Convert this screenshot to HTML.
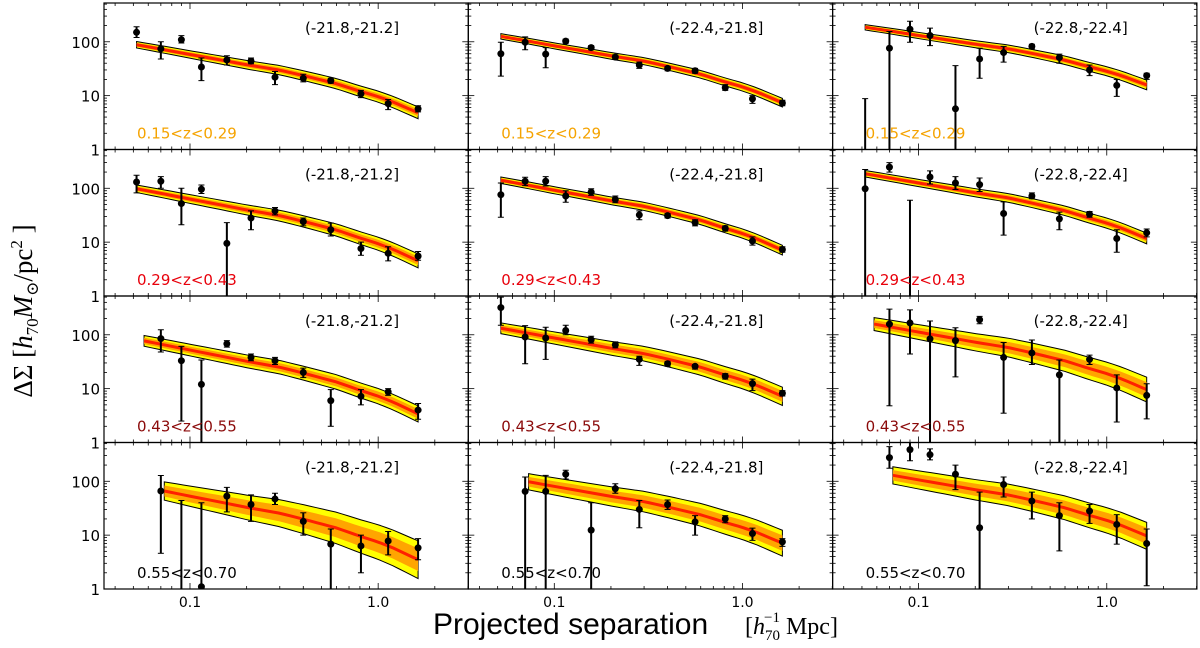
<!DOCTYPE html>
<html><head><meta charset="utf-8"><style>
html,body{margin:0;padding:0;background:#fff;}
svg{display:block;}
</style></head><body>
<svg id="fig" width="1200" height="648" viewBox="0 0 1200 648" xmlns="http://www.w3.org/2000/svg">
<text transform="translate(32,311) rotate(-90)" text-anchor="middle" font-family="Liberation Serif, DejaVu Serif, serif" font-size="27">ΔΣ  [<tspan font-style="italic">h</tspan><tspan font-size="17" dy="6">70</tspan><tspan dy="-6" font-style="italic">M</tspan><tspan font-size="17" dy="6">⊙</tspan><tspan dy="-6">/pc</tspan><tspan font-size="17" dy="-10">2</tspan><tspan dy="10"> ]</tspan></text>
<text x="433" y="634" font-family="Liberation Sans, DejaVu Sans, sans-serif" font-size="30">Projected separation</text>
<text x="745" y="634" font-family="Liberation Serif, DejaVu Serif, serif" font-size="24">[<tspan font-style="italic">h</tspan><tspan font-size="15" dy="6">70</tspan><tspan font-size="15" dx="-16" dy="-18">−1</tspan><tspan dy="12"> Mpc]</tspan></text>
</svg>
<script>
const xBins = [0.052,0.07,0.09,0.115,0.157,0.211,0.283,0.40,0.56,0.81,1.13,1.63];
const magRanges = ["(-21.8,-21.2]","(-22.4,-21.8]","(-22.8,-22.4]"];
const zLabels = ["0.15<z<0.29","0.29<z<0.43","0.43<z<0.55","0.55<z<0.70"];
const zColors = ["#f5a300","#e8000b","#8b0a0a","#000000"];
const dsVal = [
[150,74,109,34,46,44,22,21,19,10.8,7.1,5.7],
[60,98,59,103,78,52,37,32,29,14,8.7,7.3],
[0.5,76,171,131,5.7,48,63,82,51,30,15.5,23.5],
[131,135,52,96,9.5,28,38,24,17,7.6,6.2,5.5],
[76,135,135,72,85,62,32,31,23,18,10.5,7.3],
[98,247,0.5,162,125,117,34,72,27,33,11.7,14.9],
[null,85,33,12,68,38,33,20,6,7.2,8.7,4],
[320,91,87,120,81,65,35,29,26,17,12.4,8.2],
[null,158,166,84,78,190,38,46,18,35,10.3,7.5],
[null,66,0.8,1.1,53,37,47,18,6.8,6.3,7.8,5.8],
[null,65,65,135,12.4,73,30,37,17.6,20,10.7,7.5],
[null,275,387,312,135,13.7,87,43,23,28,15.8,7]];
const dsHi = [
[190,100,130,50,55,50,28,25,21,12.5,8.5,6.5],
[98,123,78,112,85,57,42,35,32,16,10,8.2],
[8.8,155,240,179,36,76,82,90,59,37,20,26],
[175,165,100,115,23,38,44,28,22.5,10,8.2,6.7],
[125,160,165,90,98,72,38,34,26,20,12.5,8.2],
[223,300,60,210,165,155,56,82,36,37,17,17.5],
[null,124,61,34,78,44,38,24,9.6,9.6,10,5.3],
[500,148,138,150,94,74,40,32,28,19,15,9.2],
[null,300,290,180,135,220,72,80,34,42,18,12.3],
[null,128,44,40,77,56,60,26,13,10,11.7,8.6],
[null,120,129,160,40,90,44,45,23,23,13.5,8.6],
[null,440,530,400,200,63,120,63,40,37,24,13]];
const dsLo = [
[120,48,95,19,37,39,16,18,17,9.2,5.5,5.0],
[23,71,33,94,71,47,32,29,26,12.5,7.2,6.5],
[0.1,0.1,98,85,0.1,21,42,74,40,23.5,9.7,20],
[82,100,21,80,0.1,17,32,20,13,5.7,4.5,4.6],
[29,112,110,55,74,54,26,28,20,16,8.8,6.5],
[0.1,200,0.1,120,95,87,13.5,64,17,29,6.5,12.5],
[null,48,2.5,0.1,59,33,28,16,2,5,7.5,2.7],
[150,29,35,100,70,57,27,26,23,15,9.2,7.3],
[null,4.8,44,0.1,16.5,160,3.5,28,0.1,28,2.4,2.75],
[null,4.6,0.1,0.1,27,18,37,10,0.1,2,4.3,3.5],
[null,0.1,0.1,110,0.1,60,13.7,30,10,17,8,6.2],
[null,175,240,250,70,0.1,51,20,5.1,16.5,6.8,1.15]];
const modelGridX = [0.052,0.07,0.1,0.15,0.2,0.3,0.4,0.6,0.8,1.0,1.2,1.63];
const modelShape = [0.18,0.10,0,-0.11,-0.19,-0.29,-0.39,-0.54,-0.68,-0.78,-0.88,-1.08];
const modelStartX = [0.052,0.052,0.052,0.052,0.052,0.052,0.057,0.052,0.058,0.073,0.073,0.073];
const modelEndX = 1.63;
const modelStartVal = [88,126,186,98,141,186,77,132,158,66,98,129];
const modelEndVal = [4.8,7.4,15.8,4.5,7.1,11.7,3.4,7.2,9.6,3.5,7.1,9.7];
const bandStart = [0.06,0.05,0.05,0.07,0.06,0.06,0.10,0.10,0.12,0.17,0.15,0.16];
const bandEnd = [0.11,0.08,0.09,0.13,0.09,0.10,0.15,0.17,0.23,0.35,0.24,0.25];
const yTicks = [1,10,100];
const yTickLabels = ["1","10","100"];
const xTicks = [0.1,1.0];
const xTickLabels = ["0.1","1.0"];

const NS="http://www.w3.org/2000/svg";
const svg=document.getElementById('fig');
const L0=104, T0=3, PW=364.3, PH=146.5;
const XMIN=-1.457, XMAX=0.479, YMAX=2.72;
function mk(tag,attrs,parent){const e=document.createElementNS(NS,tag);for(const k in attrs)e.setAttribute(k,attrs[k]);(parent||svg).appendChild(e);return e;}
function shapeAt(x){const lx=Math.log10(x);const g=modelGridX.map(Math.log10);
  if(lx<=g[0])return modelShape[0];
  for(let i=1;i<g.length;i++){if(lx<=g[i]){const t=(lx-g[i-1])/(g[i]-g[i-1]);return modelShape[i-1]+t*(modelShape[i]-modelShape[i-1]);}}
  return modelShape[modelShape.length-1];}
const defs=mk('defs',{});
for(let r=0;r<4;r++)for(let c=0;c<3;c++){
  const p=r*3+c, left=L0+c*PW, top=T0+r*PH, bot=top+PH;
  const X=v=>left+(Math.log10(v)-XMIN)/(XMAX-XMIN)*PW;
  const Y=v=>bot-Math.log10(v)/YMAX*PH;
  const cp=mk('clipPath',{id:'cp'+p},defs);mk('rect',{x:left,y:top,width:PW,height:PH},cp);
  const g=mk('g',{'clip-path':'url(#cp'+p+')'});
  
  
  // model
  const xs=modelStartX[p], s0=shapeAt(xs), s1=shapeAt(modelEndX);
  const a=Math.log10(modelStartVal[p]), b=Math.log10(modelEndVal[p]);
  const N=40, pts=[];
  for(let i=0;i<=N;i++){const lx=Math.log10(xs)+(Math.log10(modelEndX)-Math.log10(xs))*i/N;const x=Math.pow(10,lx);
    const f=(s0-shapeAt(x))/(s0-s1);const m=a+(b-a)*f;const w=bandStart[p]+(bandEnd[p]-bandStart[p])*(i/N);pts.push([x,m,w]);}
  const poly=(k)=>{const up=pts.map(q=>X(q[0])+','+Y(Math.pow(10,q[1]+q[2]*k)));const dn=pts.slice().reverse().map(q=>X(q[0])+','+Y(Math.pow(10,q[1]-q[2]*k)));return up.concat(dn).join(' ');};
  const outer=mk('polygon',{points:poly(1),fill:'#ffff00',stroke:'#000','stroke-width':1},g);
  
  
  const inner=mk('polygon',{points:poly(0.6),fill:'#ffa500',stroke:'none'},g);
  
  
  const line=mk('polyline',{points:pts.map(q=>X(q[0])+','+Y(Math.pow(10,q[1]))).join(' '),fill:'none',stroke:'#ff2000','stroke-width':3},g);
  
  
  // data
  for(let i=0;i<xBins.length;i++){const v=dsVal[p][i];if(v==null)continue;
    const x=X(xBins[i]);
    const eb=mk('line',{x1:x,x2:x,y1:Y(dsHi[p][i]),y2:Math.min(Y(dsLo[p][i]),bot+2),stroke:'#000','stroke-width':2},g);
    
    
    for(const e of [dsHi[p][i],dsLo[p][i]]){const yy=Y(e);if(yy<bot){const cap=mk('line',{x1:x-3,x2:x+3,y1:yy,y2:yy,stroke:'#000','stroke-width':1},g);}}
    const dot=mk('circle',{cx:x,cy:Y(v),r:3.5,fill:'#000'},g);
    
    
  }
  // ticks
  const tg=mk('g',{stroke:'#000','stroke-width':0.8});
  for(let d=0;d<3;d++)for(let m=1;m<10;m++){const v=m*Math.pow(10,d);const yy=Y(v);if(yy<top)break;const len=m==1?6:3;
    mk('line',{x1:left,x2:left+len,y1:yy,y2:yy},tg);mk('line',{x1:left+PW-len,x2:left+PW,y1:yy,y2:yy},tg);}
  for(let d=-2;d<1;d++)for(let m=1;m<10;m++){const v=m*Math.pow(10,d);const xx=X(v);if(xx<left||xx>left+PW)continue;const len=m==1?6:3;
    mk('line',{x1:xx,x2:xx,y1:bot,y2:bot-len},tg);mk('line',{x1:xx,x2:xx,y1:top,y2:top+len},tg);}
  const fr=mk('rect',{x:left,y:top,width:PW,height:PH,fill:'none',stroke:'#000','stroke-width':1.2});
  
  
  const mt=mk('text',{x:left+201,y:top+30,'font-family':'DejaVu Sans, Liberation Sans, sans-serif','font-size':15,fill:'#000'});
  mt.textContent=magRanges[c];
  
  
  const zt=mk('text',{x:left+33,y:bot-11,'font-family':'DejaVu Sans, Liberation Sans, sans-serif','font-size':15,fill:zColors[r]});
  zt.textContent=zLabels[r];
  
  
  if(c==0){for(let k=0;k<yTicks.length;k++){const t=mk('text',{x:left-4,y:Y(yTicks[k])+6,'text-anchor':'end','font-family':'DejaVu Sans, Liberation Sans, sans-serif','font-size':15});
    t.textContent=yTickLabels[k];
    
    }}
  if(r==3){for(let k=0;k<xTicks.length;k++){const t=mk('text',{x:X(xTicks[k]),y:bot+18,'text-anchor':'middle','font-family':'DejaVu Sans, Liberation Sans, sans-serif','font-size':14});
    t.textContent=xTickLabels[k];
    
    }}
}
</script>
</body></html>
